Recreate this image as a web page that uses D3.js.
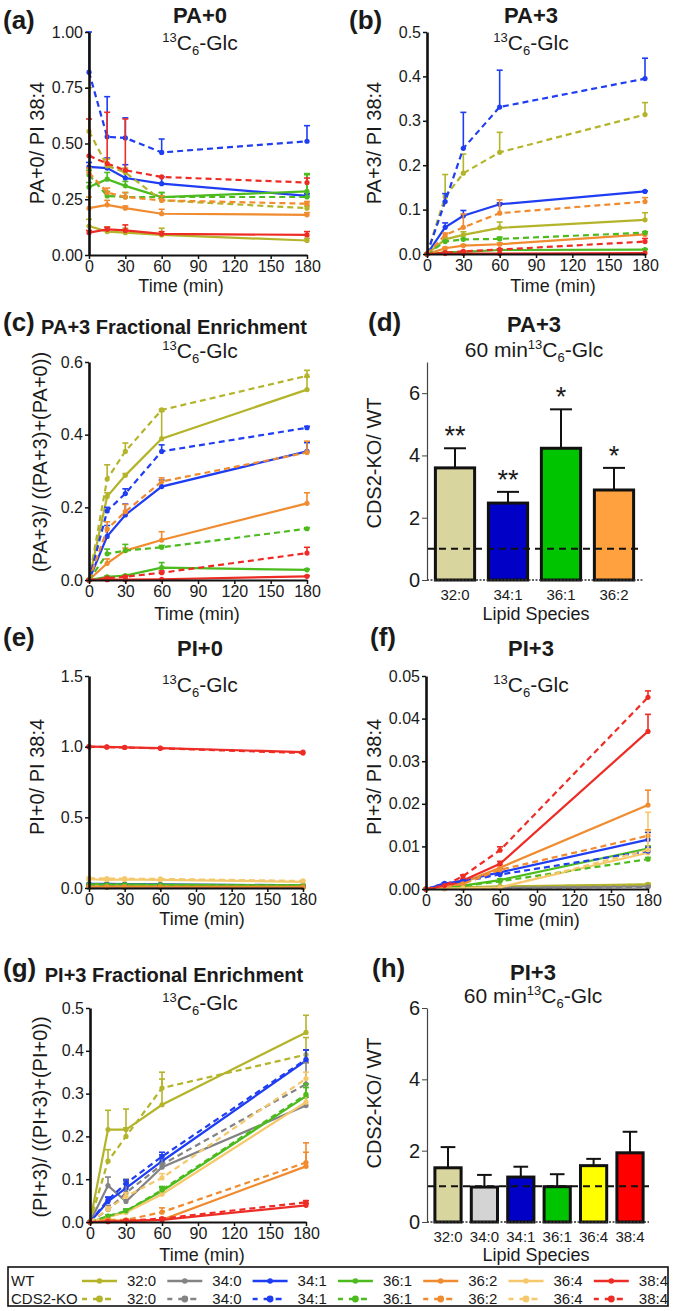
<!DOCTYPE html>
<html><head><meta charset="utf-8">
<script src="https://cdn.jsdelivr.net/npm/d3@7"></script>
<style>
body{margin:0;background:#fff;}
svg text{font-family:"Liberation Sans",Arial,sans-serif;fill:#1a1a1a;}
</style></head><body>
<script>
// ---- data ----
var times = [0, 15, 30, 60, 180];
var timeTicks = [0, 30, 60, 90, 120, 150, 180];
var species = ["32:0", "34:0", "34:1", "36:1", "36:2", "36:4", "38:4"];
var colors = {"32:0": "#b4b42a", "34:0": "#838383", "34:1": "#1f3df2", "36:1": "#4cbb1e",
              "36:2": "#f08b2f", "36:4": "#f6c86c", "38:4": "#ee2c26"};

// (a) PA+0 / PI 38:4
var pa0WT = {"32:0": [0.13, 0.105, 0.10, 0.09, 0.065], "34:1": [0.395, 0.39, 0.345, 0.32, 0.265],
  "36:1": [0.305, 0.34, 0.31, 0.26, 0.285], "36:2": [0.21, 0.225, 0.21, 0.185, 0.18],
  "38:4": [0.10, 0.115, 0.11, 0.095, 0.09]};
var pa0WTErr = {"32:0": [0.03, 0.02, 0.02, 0.03, 0.01], "34:1": [0.02, 0.045, 0.06, 0.03, 0.01],
  "36:1": [0.02, 0.03, 0.02, 0.02, 0.08], "36:2": [0.05, 0.02, 0.01, 0.02, 0.01],
  "38:4": [0.01, 0.01, 0.025, 0.01, 0.015]};
var pa0KO = {"32:0": [0.555, 0.40, 0.37, 0.245, 0.21], "34:1": [0.82, 0.53, 0.525, 0.46, 0.51],
  "36:1": [0.36, 0.265, 0.26, 0.26, 0.26], "36:2": [0.37, 0.28, 0.26, 0.245, 0.23],
  "38:4": [0.445, 0.41, 0.38, 0.35, 0.325]};
var pa0KOErr = {"32:0": [0.195, 0.03, 0.02, 0.02, 0.01], "34:1": [0.18, 0.18, 0.09, 0.06, 0.07],
  "36:1": [0.02, 0.02, 0.02, 0.02, 0.1], "36:2": [0.02, 0.02, 0.02, 0.02, 0.01],
  "38:4": [0.165, 0.23, 0.23, 0.0, 0.02]};

// (b) PA+3 / PI 38:4
var pa3WT = {"32:0": [0, 0.033, 0.043, 0.059, 0.077], "34:1": [0, 0.06, 0.086, 0.112, 0.141],
  "36:1": [0, 0.004, 0.005, 0.009, 0.01], "36:2": [0, 0.013, 0.019, 0.022, 0.044],
  "38:4": [0, 0.001, 0.001, 0.001, 0.002]};
var pa3WTErr = {"32:0": [0, 0.004, 0.007, 0.013, 0.016], "34:1": [0, 0.01, 0.012, 0.003, 0.001],
  "36:1": [0, 0.001, 0.001, 0.001, 0.001], "36:2": [0, 0.002, 0.002, 0.003, 0.003],
  "38:4": [0, 0, 0, 0, 0]};
var pa3KO = {"32:0": [0, 0.129, 0.182, 0.229, 0.314], "34:1": [0, 0.118, 0.238, 0.331, 0.395],
  "36:1": [0, 0.028, 0.033, 0.034, 0.048], "36:2": [0, 0.043, 0.06, 0.092, 0.118],
  "38:4": [0, 0.003, 0.006, 0.01, 0.028]};
var pa3KOErr = {"32:0": [0, 0.05, 0.043, 0.045, 0.027], "34:1": [0, 0.018, 0.081, 0.083, 0.046],
  "36:1": [0, 0.002, 0.002, 0.004, 0.002], "36:2": [0, 0.004, 0.03, 0.03, 0.009],
  "38:4": [0, 0, 0.001, 0.001, 0.007]};

// (c) PA+3 fractional enrichment
var pafWT = {"32:0": [0, 0.23, 0.288, 0.389, 0.524], "34:1": [0, 0.12, 0.179, 0.257, 0.354],
  "36:1": [0, 0.009, 0.012, 0.034, 0.028], "36:2": [0, 0.046, 0.081, 0.11, 0.211],
  "38:4": [0, 0.001, 0.001, 0.002, 0.01]};
var pafWTErr = {"32:0": [0, 0.01, 0.005, 0.075, 0.035], "34:1": [0, 0.03, 0.03, 0.018, 0.024],
  "36:1": [0, 0.002, 0.002, 0.014, 0.002], "36:2": [0, 0.012, 0.007, 0.023, 0.029],
  "38:4": [0, 0, 0, 0, 0.002]};
var pafKO = {"32:0": [0, 0.278, 0.354, 0.468, 0.562], "34:1": [0, 0.19, 0.238, 0.354, 0.419],
  "36:1": [0, 0.072, 0.081, 0.09, 0.141], "36:2": [0, 0.14, 0.188, 0.271, 0.351],
  "38:4": [0, 0.005, 0.009, 0.02, 0.074]};
var pafKOErr = {"32:0": [0, 0.039, 0.023, 0.002, 0.015], "34:1": [0, 0.01, 0.013, 0.018, 0.004],
  "36:1": [0, 0.013, 0.017, 0.005, 0.003], "36:2": [0, 0.02, 0.02, 0.01, 0.031],
  "38:4": [0, 0.001, 0.002, 0.005, 0.016]};

// (d) PA+3 ratio at 60 min
var paRatioSpecies = ["32:0", "34:1", "36:1", "36:2"];
var paRatio = [3.6, 2.47, 4.23, 2.89];
var paRatioErr = [0.63, 0.36, 1.25, 0.71];
var paStars = ["**", "**", "*", "*"];

// (e) PI+0 / PI 38:4
var pi0WT = {"32:0": [0.006, 0.006, 0.006, 0.006, 0.005], "34:0": [0.008, 0.008, 0.008, 0.008, 0.007],
  "34:1": [0.03, 0.029, 0.028, 0.026, 0.019], "36:1": [0.028, 0.027, 0.026, 0.024, 0.02],
  "36:2": [0.012, 0.012, 0.011, 0.011, 0.01], "36:4": [0.062, 0.058, 0.06, 0.058, 0.044],
  "38:4": [1.0, 0.998, 0.995, 0.99, 0.962]};
var pi0KO = {"32:0": [0.005, 0.005, 0.005, 0.005, 0.004], "34:0": [0.007, 0.007, 0.007, 0.007, 0.006],
  "34:1": [0.025, 0.024, 0.023, 0.021, 0.015], "36:1": [0.024, 0.023, 0.022, 0.021, 0.017],
  "36:2": [0.01, 0.01, 0.01, 0.009, 0.008], "36:4": [0.07, 0.066, 0.066, 0.064, 0.05],
  "38:4": [1.0, 0.997, 0.994, 0.988, 0.955]};

// (f) PI+3 / PI 38:4
var pi3WT = {"32:0": [0, 0.0002, 0.0004, 0.0006, 0.0011], "34:0": [0, 0.0001, 0.0002, 0.0003, 0.0006],
  "34:1": [0, 0.0012, 0.002, 0.0039, 0.0116], "36:1": [0, 0.0003, 0.0008, 0.0021, 0.0095],
  "36:2": [0, 0.0005, 0.0015, 0.005, 0.0197], "36:4": [0, 0.0001, 0.0002, 0.0004, 0.0085],
  "38:4": [0, 0.0005, 0.002, 0.0059, 0.037]};
var pi3WTErr = {"32:0": [0, 0, 0, 0, 0.0002], "34:0": [0, 0, 0, 0, 0.0001],
  "34:1": [0, 0.0002, 0.0002, 0.0009, 0.0017], "36:1": [0, 0, 0.0001, 0.0003, 0.0006],
  "36:2": [0, 0, 0.0002, 0.0008, 0.0035], "36:4": [0, 0, 0, 0.0002, 0.0095],
  "38:4": [0, 0, 0.0003, 0.0006, 0.004]};
var pi3KO = {"32:0": [0, 0.0002, 0.0003, 0.0005, 0.001], "34:0": [0, 0.0001, 0.0002, 0.0003, 0.0005],
  "34:1": [0, 0.0013, 0.0018, 0.0034, 0.0089], "36:1": [0, 0.0003, 0.0007, 0.0018, 0.007],
  "36:2": [0, 0.0004, 0.0012, 0.0045, 0.0125], "36:4": [0, 0.0001, 0.0002, 0.0003, 0.0092],
  "38:4": [0, 0.0008, 0.003, 0.0091, 0.045]};
var pi3KOErr = {"32:0": [0, 0, 0, 0, 0.0001], "34:0": [0, 0, 0, 0, 0.0001],
  "34:1": [0, 0.0001, 0.0002, 0.0004, 0.0009], "36:1": [0, 0, 0.0001, 0.0002, 0.0004],
  "36:2": [0, 0, 0.0002, 0.0006, 0.0014], "36:4": [0, 0, 0, 0.0001, 0.0045],
  "38:4": [0, 0, 0.0003, 0.0008, 0.0015]};

// (g) PI+3 fractional enrichment
var pifWT = {"32:0": [0, 0.216, 0.216, 0.274, 0.443], "34:0": [0, 0.085, 0.048, 0.128, 0.272],
  "34:1": [0, 0.048, 0.079, 0.142, 0.377], "36:1": [0, 0.012, 0.025, 0.072, 0.294],
  "36:2": [0, 0.003, 0.003, 0.005, 0.13], "36:4": [0, 0.012, 0.022, 0.065, 0.28],
  "38:4": [0, 0.001, 0.002, 0.005, 0.039]};
var pifWTErr = {"32:0": [0, 0.045, 0.048, 0.06, 0.04], "34:0": [0, 0.02, 0.047, 0.028, 0.02],
  "34:1": [0, 0.01, 0.01, 0.015, 0.025], "36:1": [0, 0.003, 0.005, 0.008, 0.02],
  "36:2": [0, 0.002, 0.002, 0.003, 0.033], "36:4": [0, 0.003, 0.004, 0.006, 0.015],
  "38:4": [0, 0.001, 0.001, 0.002, 0.004]};
var pifKO = {"32:0": [0, 0.142, 0.2, 0.313, 0.391], "34:0": [0, 0.029, 0.068, 0.134, 0.322],
  "34:1": [0, 0.052, 0.09, 0.153, 0.38], "36:1": [0, 0.014, 0.026, 0.075, 0.298],
  "36:2": [0, 0.005, 0.005, 0.023, 0.139], "36:4": [0, 0.03, 0.06, 0.103, 0.335],
  "38:4": [0, 0.001, 0.003, 0.008, 0.046]};
var pifKOErr = {"32:0": [0, 0.027, 0.02, 0.037, 0.04], "34:0": [0, 0.01, 0.032, 0.021, 0.05],
  "34:1": [0, 0.006, 0.008, 0.01, 0.022], "36:1": [0, 0.003, 0.004, 0.008, 0.025],
  "36:2": [0, 0.002, 0.002, 0.01, 0.046], "36:4": [0, 0.005, 0.008, 0.01, 0.015],
  "38:4": [0, 0.001, 0.001, 0.002, 0.004]};

// (h) PI+3 ratio at 60 min
var piRatioSpecies = ["32:0", "34:0", "34:1", "36:1", "36:4", "38:4"];
var piRatio = [1.52, 0.98, 1.26, 0.99, 1.58, 1.94];
var piRatioErr = [0.58, 0.34, 0.29, 0.35, 0.19, 0.59];

var barColors = {"32:0": "#d8d59e", "34:0": "#d4d4d4", "34:1": "#0000c6", "36:1": "#00c400",
                 "36:2": "#ffa13f", "36:4": "#ffff00", "38:4": "#ff0000"};

// ---- drawing ----
var W = 676, H = 1311;
var svg = d3.select("body").append("svg").attr("width", W).attr("height", H);

function glcLabel(x, y, prefix) {
  var t = svg.append("text").attr("x", x).attr("y", y).attr("text-anchor", "middle")
    .style("font-size", "21px");
  if (prefix) t.append("tspan").text(prefix);
  t.append("tspan").attr("dy", -8).style("font-size", "13px").text("13");
  t.append("tspan").attr("dy", 8).text("C");
  t.append("tspan").attr("dy", 5).style("font-size", "13px").text("6");
  t.append("tspan").attr("dy", -5).text("-Glc");
}

function text(x, y, s, size, opts) {
  opts = opts || {};
  var t = svg.append("text").attr("x", x).attr("y", y).text(s)
    .attr("text-anchor", opts.anchor || "middle")
    .style("font-size", size + "px")
    .style("font-weight", opts.bold ? "bold" : null);
  if (opts.rotate) t.attr("transform", "rotate(-90," + x + "," + y + ")");
  return t;
}

function styleAxis(g, w) {
  g.select(".domain").attr("stroke", "#111").attr("stroke-width", w);
  g.selectAll(".tick line").attr("stroke", "#111").attr("stroke-width", 1.5);
  g.selectAll(".tick text").style("font-size", "16px").attr("fill", "#1a1a1a");
}

function linePanel(p) {
  var x = d3.scaleLinear().domain([0, 180]).range([p.x0, p.x1]);
  var y = d3.scaleLinear().domain(p.yDomain).range([p.yBot, p.yTop]);
  var g = svg.append("g");

  var line = d3.line().x(function(d) { return x(d[0]); }).y(function(d) { return y(d[1]); });

  p.groups.forEach(function(grp) {
    Object.keys(grp.data).forEach(function(sp) {
      var pts = times.map(function(t, i) { return [t, grp.data[sp][i], grp.err ? grp.err[sp][i] : 0]; });
      var c = colors[sp];
      g.append("path").datum(pts).attr("d", line).attr("fill", "none")
        .attr("stroke", c).attr("stroke-width", 2.2)
        .attr("stroke-dasharray", grp.dash);
      pts.forEach(function(d) {
        if (d[2] > 0) {
          var top = y(d[1] + d[2]);
          g.append("line").attr("x1", x(d[0])).attr("x2", x(d[0]))
            .attr("y1", y(d[1])).attr("y2", top).attr("stroke", c).attr("stroke-width", 1.6);
          g.append("line").attr("x1", x(d[0]) - 3).attr("x2", x(d[0]) + 3)
            .attr("y1", top).attr("y2", top).attr("stroke", c).attr("stroke-width", 1.6);
        }
        g.append("circle").attr("cx", x(d[0])).attr("cy", y(d[1])).attr("r", 2.6).attr("fill", c);
      });
    });
  });

  var ax = g.append("g").attr("transform", "translate(0," + p.yBot + ")")
    .call(d3.axisBottom(x).tickValues(timeTicks).tickSize(4).tickPadding(2).tickSizeOuter(0));
  styleAxis(ax, 2);
  var ay = g.append("g").attr("transform", "translate(" + p.x0 + ",0)")
    .call(d3.axisLeft(y).tickValues(p.yTicks).tickFormat(d3.format(p.fmt)).tickSize(4).tickPadding(2).tickSizeOuter(0));
  styleAxis(ay, 2.6);
}

function barPanel(p) {
  var x = d3.scaleBand().domain(p.cats).range([p.bx0, p.bx1]).paddingInner(p.padIn).paddingOuter(p.padIn / 2);
  var y = d3.scaleLinear().domain(p.yDomain).range([p.yBot, p.yTop]);
  var g = svg.append("g");

  p.cats.forEach(function(c, i) {
    var cx = x(c) + x.bandwidth() / 2;
    var top = y(p.values[i] + p.errs[i]);
    g.append("line").attr("x1", cx).attr("x2", cx).attr("y1", y(p.values[i])).attr("y2", top)
      .attr("stroke", "#111").attr("stroke-width", 2);
    g.append("line").attr("x1", cx - x.bandwidth() * 0.28).attr("x2", cx + x.bandwidth() * 0.28)
      .attr("y1", top).attr("y2", top).attr("stroke", "#111").attr("stroke-width", 2);
    g.append("rect").attr("x", x(c)).attr("y", y(p.values[i]))
      .attr("width", x.bandwidth()).attr("height", y(0) - y(p.values[i]))
      .attr("fill", barColors[c]).attr("stroke", "#111").attr("stroke-width", 3);
    if (p.stars) {
      g.append("text").attr("x", cx).attr("y", top - 3).attr("text-anchor", "middle")
        .style("font-size", "27px").text(p.stars[i]);
    }
  });

  g.append("line").attr("x1", p.x0).attr("x2", p.xEnd).attr("y1", y(1)).attr("y2", y(1))
    .attr("stroke", "#111").attr("stroke-width", 2).attr("stroke-dasharray", "7,5");

  var ax = g.append("g").attr("transform", "translate(0," + p.yBot + ")")
    .call(d3.axisBottom(x).tickSize(0).tickPadding(9));
  ax.select(".domain").remove();
  ax.selectAll(".tick text").style("font-size", "15px").attr("fill", "#1a1a1a");
  g.append("line").attr("x1", p.x0).attr("x2", p.xEnd).attr("y1", p.yBot).attr("y2", p.yBot)
    .attr("stroke", "#333").attr("stroke-width", 1.3).attr("stroke-dasharray", "2,1.5");

  var ay = g.append("g").attr("transform", "translate(" + p.x0 + ",0)")
    .call(d3.axisLeft(y).tickValues(p.yTicks).tickFormat(d3.format("d")).tickSize(5).tickPadding(2).tickSizeOuter(0));
  ay.select(".domain").attr("stroke", "#444").attr("stroke-width", 1.2);
  ay.selectAll(".tick line").attr("stroke", "#444");
  ay.selectAll(".tick text").style("font-size", "20px").attr("fill", "#1a1a1a");
}

// (a)
linePanel({x0: 89, x1: 307, yTop: 32, yBot: 255, yDomain: [0, 1], yTicks: [0, 0.25, 0.5, 0.75, 1], fmt: ".2f",
  groups: [{data: pa0WT, err: pa0WTErr, dash: null}, {data: pa0KO, err: pa0KOErr, dash: "6,4"}]});
text(3, 29, "(a)", 26, {anchor: "start", bold: true});
text(200, 23, "PA+0", 22, {bold: true});
glcLabel(200, 50);
text(44, 143, "PA+0/ PI 38:4", 20, {rotate: true});
text(181, 292, "Time (min)", 18);

// (b)
linePanel({x0: 427, x1: 645, yTop: 32, yBot: 254, yDomain: [0, 0.5], yTicks: [0, 0.1, 0.2, 0.3, 0.4, 0.5], fmt: ".1f",
  groups: [{data: pa3WT, err: pa3WTErr, dash: null}, {data: pa3KO, err: pa3KOErr, dash: "6,4"}]});
text(349, 29, "(b)", 26, {anchor: "start", bold: true});
text(531, 23, "PA+3", 22, {bold: true});
glcLabel(531, 50);
text(381, 143, "PA+3/ PI 38:4", 20, {rotate: true});
text(553, 292, "Time (min)", 18);

// (c)
linePanel({x0: 89, x1: 307, yTop: 362, yBot: 580, yDomain: [0, 0.6], yTicks: [0, 0.2, 0.4, 0.6], fmt: ".1f",
  groups: [{data: pafWT, err: pafWTErr, dash: null}, {data: pafKO, err: pafKOErr, dash: "6,4"}]});
text(3, 331, "(c)", 26, {anchor: "start", bold: true});
text(174, 334, "PA+3 Fractional Enrichment", 20, {bold: true});
glcLabel(200, 358);
text(47, 462, "(PA+3)/ ((PA+3)+(PA+0))", 20, {rotate: true});
text(197, 620, "Time (min)", 18);

// (d)
barPanel({cats: paRatioSpecies, values: paRatio, errs: paRatioErr, stars: paStars,
  x0: 427, xEnd: 643, bx0: 428.5, bx1: 640.5, padIn: 0.26,
  yTop: 362, yBot: 580, yDomain: [0, 7], yTicks: [0, 2, 4, 6]});
text(368, 331, "(d)", 26, {anchor: "start", bold: true});
text(534, 332, "PA+3", 22, {bold: true});
glcLabel(534, 357, "60 min");
text(381, 463, "CDS2-KO/ WT", 20, {rotate: true});
text(536, 620, "Lipid Species", 18);

// (e)
linePanel({x0: 89, x1: 303, yTop: 676, yBot: 888, yDomain: [0, 1.5], yTicks: [0, 0.5, 1, 1.5], fmt: ".1f",
  groups: [{data: pi0WT, err: null, dash: null}, {data: pi0KO, err: null, dash: "6,4"}]});
text(3, 646, "(e)", 26, {anchor: "start", bold: true});
text(200, 656, "PI+0", 22, {bold: true});
glcLabel(200, 692);
text(44, 777, "PI+0/ PI 38:4", 20, {rotate: true});
text(202, 925, "Time (min)", 18);

// (f)
linePanel({x0: 426, x1: 648, yTop: 676, yBot: 889, yDomain: [0, 0.05], yTicks: [0, 0.01, 0.02, 0.03, 0.04, 0.05], fmt: ".2f",
  groups: [{data: pi3WT, err: pi3WTErr, dash: null}, {data: pi3KO, err: pi3KOErr, dash: "6,4"}]});
text(370, 646, "(f)", 26, {anchor: "start", bold: true});
text(531, 656, "PI+3", 22, {bold: true});
glcLabel(531, 692);
text(381, 777, "PI+3/ PI 38:4", 20, {rotate: true});
text(537, 926, "Time (min)", 18);

// (g)
linePanel({x0: 90, x1: 306, yTop: 1008, yBot: 1222, yDomain: [0, 0.5], yTicks: [0, 0.1, 0.2, 0.3, 0.4, 0.5], fmt: ".1f",
  groups: [{data: pifWT, err: pifWTErr, dash: null}, {data: pifKO, err: pifKOErr, dash: "6,4"}]});
text(3, 977, "(g)", 26, {anchor: "start", bold: true});
text(174, 982, "PI+3 Fractional Enrichment", 20, {bold: true});
glcLabel(200, 1010);
text(47, 1117, "(PI+3)/ ((PI+3)+(PI+0))", 20, {rotate: true});
text(202, 1261, "Time (min)", 18);

// (h)
barPanel({cats: piRatioSpecies, values: piRatio, errs: piRatioErr, stars: null,
  x0: 427, xEnd: 649, bx0: 429.8, bx1: 648.2, padIn: 0.28,
  yTop: 1008, yBot: 1222, yDomain: [0, 6], yTicks: [0, 2, 4, 6]});
text(372, 977, "(h)", 26, {anchor: "start", bold: true});
text(533, 980, "PI+3", 22, {bold: true});
glcLabel(533, 1003, "60 min");
text(381, 1103, "CDS2-KO/ WT", 20, {rotate: true});
text(536, 1261, "Lipid Species", 18);

// legend
var leg = svg.append("g");
leg.append("rect").attr("x", 8).attr("y", 1267).attr("width", 660).attr("height", 39)
  .attr("fill", "none").attr("stroke", "#111").attr("stroke-width", 1.6);
var rows = [{name: "WT", y: 1281, dash: null}, {name: "CDS2-KO", y: 1299, dash: "6,6"}];
rows.forEach(function(r) {
  leg.append("text").attr("x", 11).attr("y", r.y + 5).style("font-size", "15px").text(r.name);
  species.forEach(function(sp, i) {
    var lx = 82 + i * 85.3;
    leg.append("line").attr("x1", lx).attr("x2", lx + 35).attr("y1", r.y).attr("y2", r.y)
      .attr("stroke", colors[sp]).attr("stroke-width", 2.4).attr("stroke-dasharray", r.dash)
      .attr("stroke-dashoffset", r.dash ? 1 : null);
    leg.append("circle").attr("cx", lx + 17.5).attr("cy", r.y).attr("r", r.dash ? 3.4 : 2.8).attr("fill", colors[sp]);
    leg.append("text").attr("x", lx + 45).attr("y", r.y + 5).style("font-size", "15px").text(sp);
  });
});
</script>
</body></html>
